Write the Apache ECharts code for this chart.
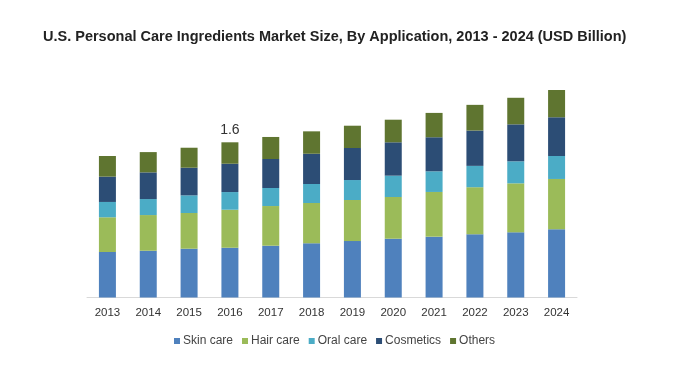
<!DOCTYPE html>
<html><head><meta charset="utf-8">
<script src="https://cdn.jsdelivr.net/npm/echarts@6/dist/echarts.min.js"></script>
<style>html,body{margin:0;padding:0;background:#fff}#c{width:683px;height:369px}</style>
</head><body><div id="c"></div>
<script>
const years = ['2013','2014','2015','2016','2017','2018','2019','2020','2021','2022','2023','2024'];
const skinCare  = [0.469,0.482,0.503,0.513,0.534,0.559,0.582,0.606,0.627,0.652,0.672,0.703];
const hairCare  = [0.358,0.368,0.368,0.392,0.409,0.415,0.423,0.430,0.461,0.485,0.505,0.519];
const oralCare  = [0.158,0.165,0.182,0.182,0.186,0.196,0.206,0.220,0.213,0.220,0.227,0.237];
const cosmetics = [0.261,0.275,0.285,0.292,0.299,0.312,0.330,0.344,0.351,0.364,0.381,0.399];
const others    = [0.213,0.209,0.206,0.221,0.227,0.231,0.230,0.233,0.251,0.265,0.274,0.281];
const labelIndex = 3; const labelText = '1.6';
const names = ['Skin care','Hair care','Oral care','Cosmetics','Others'];
const colors = ['#4F81BD','#9BBB59','#4BACC6','#2C4D75','#5F7530'];
const data = [skinCare,hairCare,oralCare,cosmetics,others];
const chart = echarts.init(document.getElementById('c'));
chart.setOption({
  animation:false,
  title:{text:'U.S. Personal Care Ingredients Market Size, By Application, 2013 - 2024 (USD Billion)',left:38,top:24,
    textStyle:{fontFamily:'Liberation Sans',fontSize:14.5,fontWeight:'bold',color:'#222'}},
  legend:{data:names,left:169,top:330,itemWidth:6,itemHeight:6,itemGap:9,icon:'rect',
    textStyle:{fontFamily:'Liberation Sans',fontSize:12,color:'#444',padding:[0,0,0,-2]}},
  grid:{left:87,right:683-577,top:55,bottom:369-297.5},
  xAxis:{type:'category',data:years,axisTick:{show:false},
    axisLine:{lineStyle:{color:'#d9d9d9'}},
    axisLabel:{fontFamily:'Liberation Sans',fontSize:11.5,color:'#333',margin:9}},
  yAxis:{type:'value',min:0,max:2.5,show:false,splitLine:{show:false}},
  series:data.map((d,i)=>({name:names[i],type:'bar',stack:'a',barWidth:17,
    itemStyle:{color:colors[i]},
    data:d.map((v,j)=>(i===4&&j===labelIndex)?{value:v,label:{show:true,position:'top',formatter:labelText,
      fontFamily:'Liberation Sans',fontSize:14,color:'#333',distance:5}}:v)}))
});
</script></body></html>
